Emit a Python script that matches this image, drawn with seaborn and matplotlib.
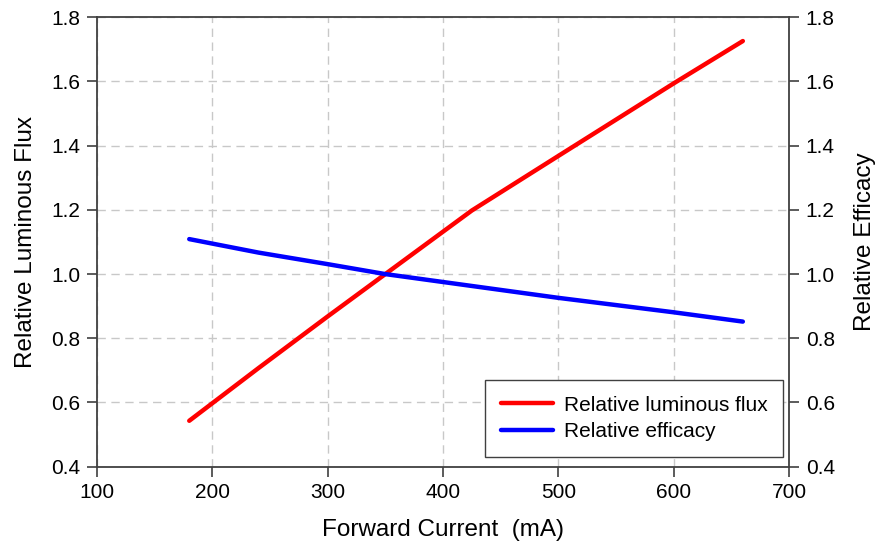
import matplotlib
matplotlib.use("Agg")
import matplotlib.pyplot as plt
import seaborn as sns
import pandas as pd

# values
current_ma = [180, 240, 300, 350, 425, 500, 600, 660]
rel_flux = [0.543, 0.707, 0.868, 1.000, 1.198, 1.368, 1.594, 1.726]
rel_efficacy = [1.109, 1.067, 1.031, 1.000, 0.963, 0.926, 0.881, 0.852]

x_ticks = [100, 200, 300, 400, 500, 600, 700]
y_ticks = [0.4, 0.6, 0.8, 1.0, 1.2, 1.4, 1.6, 1.8]

sns.set_style("white")
plt.rcParams["font.family"] = ["Liberation Sans", "DejaVu Sans"]
plt.rcParams["text.color"] = "black"
plt.rcParams["axes.labelcolor"] = "black"

df = pd.DataFrame({"current": current_ma, "flux": rel_flux, "efficacy": rel_efficacy})

fig = plt.figure(figsize=(8.84, 5.54), dpi=100)
ax = fig.add_axes([0.1097, 0.1576, 0.7828, 0.8112])

sns.lineplot(data=df, x="current", y="flux", ax=ax, color="#ff0000", lw=3.2,
             label="Relative luminous flux", solid_capstyle="round")
sns.lineplot(data=df, x="current", y="efficacy", ax=ax, color="#0000ff", lw=3.2,
             label="Relative efficacy", solid_capstyle="round")

ax.set_xlim(100, 700)
ax.set_ylim(0.4, 1.8)
ax.set_xticks(x_ticks)
ax.set_yticks(y_ticks)
ax.set_yticklabels([f"{v:.1f}" for v in y_ticks])
ax.grid(True, color="#c8c8c8", linestyle=(0, (6, 4)), linewidth=1)
ax.set_axisbelow(True)

for side in ["top", "left", "bottom", "right"]:
    ax.spines[side].set_color("#404040")
    ax.spines[side].set_linewidth(1.3)

ax.tick_params(axis="both", direction="out", length=7, width=1.2, colors="#404040",
               labelcolor="black", labelsize=15, left=True, bottom=True, pad=5)

ax.set_xlabel("Forward Current  (mA)", fontsize=17.5, labelpad=12, color="black")
ax.set_ylabel("Relative Luminous Flux", fontsize=17.5, labelpad=10, color="black")

ax2 = ax.twinx()
ax2.set_ylim(0.4, 1.8)
ax2.set_yticks(y_ticks)
ax2.set_yticklabels([f"{v:.1f}" for v in y_ticks])
ax2.tick_params(axis="y", direction="out", length=7, width=1.2, colors="#404040",
                labelcolor="black", labelsize=15, right=True, pad=5)
ax2.set_ylabel("Relative Efficacy", fontsize=17.5, labelpad=14, color="black")
for side in ["top", "left", "bottom", "right"]:
    ax2.spines[side].set_visible(False)

leg = ax.legend(loc="lower right", fontsize=15, frameon=True, fancybox=False,
                edgecolor="#404040", framealpha=1, handlelength=2.5, handletextpad=0.5,
                borderpad=0.75, labelspacing=0.35, borderaxespad=0,
                bbox_to_anchor=(0.9913, 0.0223))
leg.get_frame().set_linewidth(1.0)
for txt in leg.get_texts():
    txt.set_color("black")

fig.savefig("out.png", dpi=100)
